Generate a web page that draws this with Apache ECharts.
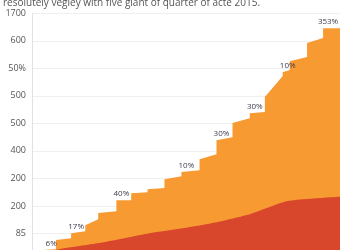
<!DOCTYPE html>
<html><head><meta charset="utf-8">
<script src="https://cdn.jsdelivr.net/npm/echarts@6/dist/echarts.min.js"></script>
<style>html,body{margin:0;padding:0;background:#fff;overflow:hidden}#c{width:350px;height:261px}</style>
</head><body><div id="c"></div>
<script>
var titleText = "resolutely vegiey with five giant of quarter of acte 2015.";
var yTickValues = [100, 200, 300, 400, 500, 600, 700, 800, 900];
var yTickLabels = ["85", "200", "200", "400", "500", "500", "50%", "600", "1700"];
// orange total profile: [x position (0-100), value]
var totalX = [0, 4.6, 7.8, 7.8, 12.7, 12.7, 17.3, 17.3, 21.5, 21.5, 27.4, 27.4, 32.2, 32.2, 37.5, 37.5, 43.0, 43.0, 48.5, 48.5, 54.4, 54.4, 59.9, 59.9, 65.1, 65.1, 70.7, 70.7, 75.6, 75.6, 81.4, 81.4, 83.7, 83.7, 89.3, 89.3, 94.5, 94.5, 100];
var totalY = [36, 41, 43, 76, 83, 101, 108, 130, 152, 174, 181, 221, 221, 246, 250, 261, 265, 297, 308, 323, 330, 370, 388, 439, 450, 501, 519, 537, 541, 596, 672, 686, 694, 726, 741, 792, 810, 846, 846];
// growth labels attached to points of the orange profile (index into arrays above)
var labelIndex = [1, 5, 11, 19, 23, 27, 31, 37];
var labelText = ["6%", "17%", "40%", "10%", "30%", "30%", "10%", "353%"];
// red base series
var baseX = [0, 8.8, 21.8, 38.1, 48.9, 59.9, 70.7, 82.7, 100];
var baseY = [21, 43, 65, 101, 119, 141, 170, 217, 233];

var totalData = totalX.map(function (x, i) {
  var item = { value: [x, totalY[i]] };
  var k = labelIndex.indexOf(i);
  if (k >= 0) {
    item.label = { show: true, formatter: labelText[k] };
  }
  return item;
});
var baseData = baseX.map(function (x, i) { return [x, baseY[i]]; });

var chart = echarts.init(document.getElementById('c'), null, { renderer: 'canvas' });
chart.setOption({
  animation: false,
  title: {
    text: titleText, left: -2, top: -7,
    textStyle: { fontSize: 10, fontWeight: 'normal', color: '#555', fontFamily: 'Open Sans' }
  },
  grid: { left: 32, right: 10, top: 13.3, bottom: 0, containLabel: false },
  xAxis: {
    type: 'value', min: 0, max: 100, show: false
  },
  yAxis: {
    type: 'value', min: 0, max: 900, interval: 100,
    axisLine: { show: true, lineStyle: { color: '#e2e2e2' } },
    axisTick: { show: false },
    splitLine: { lineStyle: { color: '#efefef' } },
    axisLabel: {
      margin: 6, fontSize: 9, color: '#555', fontFamily: 'Open Sans',
      formatter: function (v) {
        var k = yTickValues.indexOf(v);
        return k >= 0 ? yTickLabels[k] : '';
      }
    }
  },
  series: [
    {
      type: 'line', data: totalData, symbol: 'circle', symbolSize: 0, showSymbol: true,
      lineStyle: { width: 0 }, itemStyle: { color: '#F89A32' },
      areaStyle: { color: '#F89A32', opacity: 1 },
      label: { position: 'top', distance: 2, offset: [5, 0], fontSize: 8, color: '#3c3c4c', fontFamily: 'Open Sans' },
      z: 2
    },
    {
      type: 'line', data: baseData, symbol: 'none', smooth: 0.2,
      lineStyle: { width: 0 }, itemStyle: { color: '#D8462C' },
      areaStyle: { color: '#D8462C', opacity: 1 },
      z: 3
    }
  ]
});
</script></body></html>
